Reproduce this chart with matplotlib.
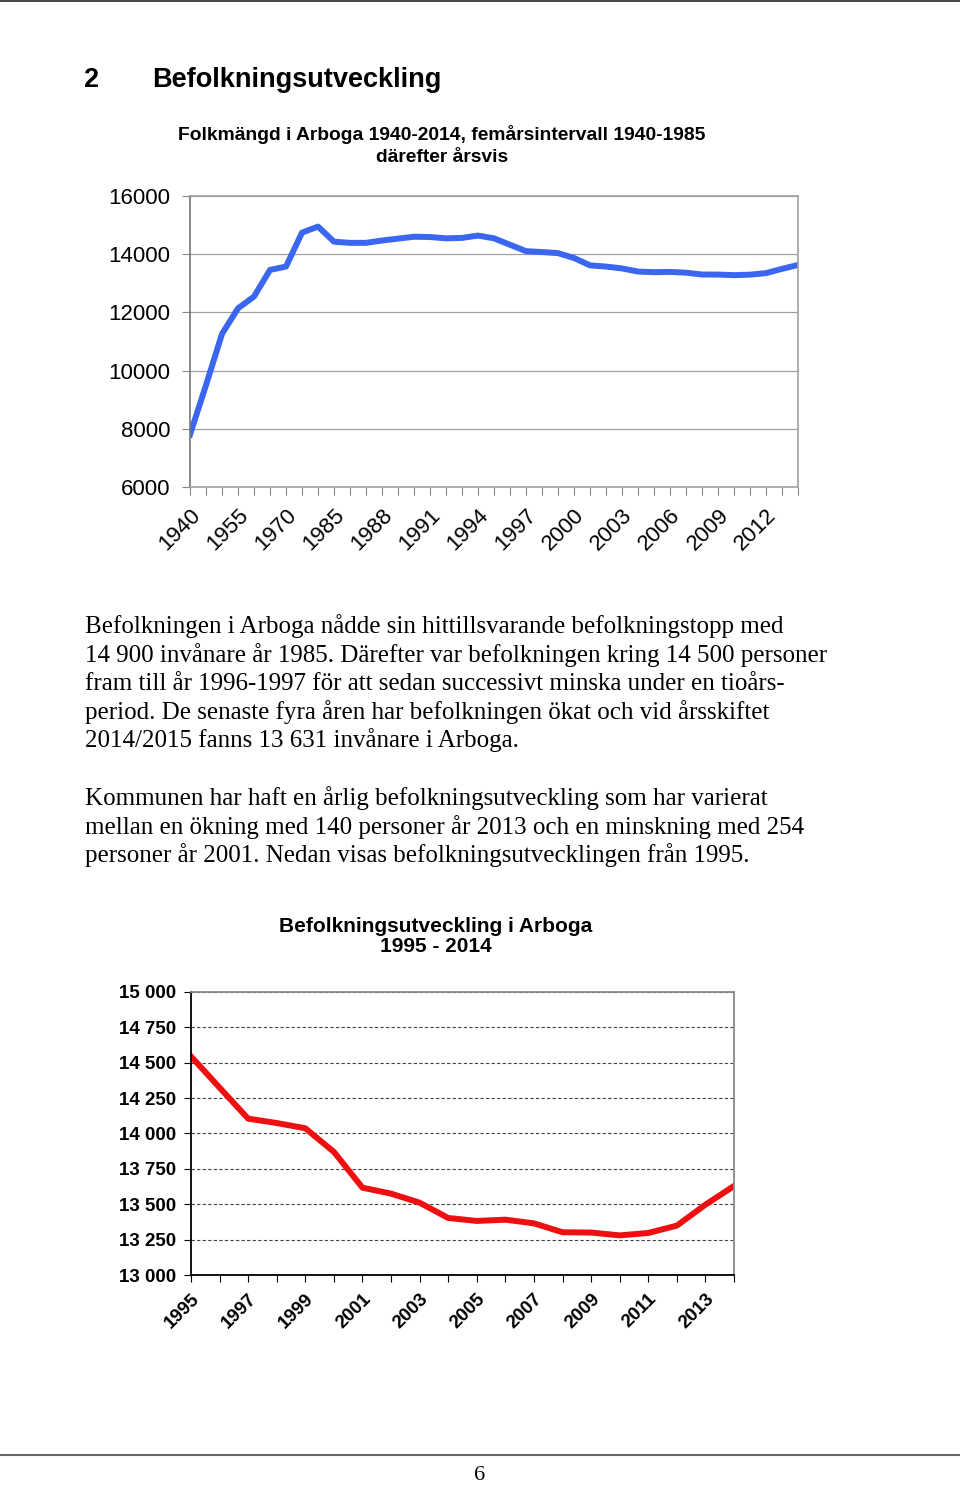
import matplotlib.pyplot as plt

# Diagram 1: folkmängd 1940-2014 (femårsintervall till 1985, sedan årsvis)
years_all = [1940, 1945, 1950, 1955, 1960, 1965, 1970, 1975, 1980, 1985,
             1986, 1987, 1988, 1989, 1990, 1991, 1992, 1993, 1994,
             1995, 1996, 1997, 1998, 1999, 2000, 2001, 2002, 2003, 2004,
             2005, 2006, 2007, 2008, 2009, 2010, 2011, 2012, 2013, 2014]
pop_all = [7800, 9500, 11260, 12140, 12545, 13460, 13575, 14740, 14950, 14430,
           14390, 14390, 14470, 14535, 14600, 14590, 14545, 14560, 14640,
           14545, 14324, 14105, 14074, 14037, 13870, 13617, 13575, 13511, 13403,
           13382, 13391, 13365, 13302, 13300, 13280, 13297, 13349, 13497, 13629]

# Diagram 2: befolkningsutveckling 1995-2014
years_recent = list(range(1995, 2015))
pop_recent = [14545, 14324, 14105, 14074, 14037, 13870, 13617, 13575, 13511, 13403,
              13382, 13391, 13365, 13302, 13300, 13280, 13297, 13349, 13497, 13629]

W, H = 960, 1486
fig = plt.figure(figsize=(W / 100, H / 100), dpi=100)


def box(l, t, r, b):
    return [l / W, 1 - b / H, (r - l) / W, (b - t) / H]


def txt(x, y, s, **kw):
    fig.text(x / W, 1 - y / H, s, **kw)


sans = 'Liberation Sans'
serif = 'Liberation Serif'

# page rules
fig.add_artist(plt.Line2D([0, 1], [1 - 1 / H, 1 - 1 / H], color='#222222', lw=1.2))
fig.add_artist(plt.Line2D([0, 1], [1 - 1455 / H, 1 - 1455 / H], color='#666666', lw=1.5))

# heading
txt(84, 80, '2', family=sans, weight='bold', fontsize=19.5, va='center')
txt(152, 80, 'Befolkningsutveckling', family=sans, weight='bold', fontsize=19.5, va='center')

# chart 1
txt(442, 134, 'Folkmängd i Arboga 1940-2014, femårsintervall 1940-1985',
    family=sans, weight='bold', fontsize=13.9, ha='center', va='center')
txt(442, 157, 'därefter årsvis', family=sans, weight='bold', fontsize=13.9,
    ha='center', va='center')

ax1 = fig.add_axes(box(190, 196, 798, 487))
x1 = list(range(len(years_all)))
ax1.plot(x1, pop_all, color='#3a66f0', lw=4.3, solid_joinstyle='round')
ax1.set_xlim(0, len(years_all) - 1)
ax1.set_ylim(6000, 16000)
ax1.set_yticks(range(6000, 16001, 2000))
ax1.set_yticklabels([str(v) for v in range(6000, 16001, 2000)], family=sans, fontsize=16)
ax1.set_xticks(x1)
ax1.set_xticklabels([str(y) if i % 3 == 0 else '' for i, y in enumerate(years_all)],
                    family=sans, fontsize=16, rotation=45, ha='right',
                    rotation_mode='anchor')
ax1.tick_params(axis='both', direction='out', length=6, color='#888888', pad=8)
ax1.tick_params(axis='x', pad=7)
ax1.grid(axis='y', color='#a0a0a0', lw=0.9)
for s in ax1.spines.values():
    s.set_color('#a0a0a0')
    s.set_linewidth(1.2)
ax1.spines['left'].set_color('#777777')

# body text
para1 = ['Befolkningen i Arboga nådde sin hittillsvarande befolkningstopp med',
         '14 900 invånare år 1985. Därefter var befolkningen kring 14 500 personer',
         'fram till år 1996-1997 för att sedan successivt minska under en tioårs-',
         'period. De senaste fyra åren har befolkningen ökat och vid årsskiftet',
         '2014/2015 fanns 13 631 invånare i Arboga.']
para2 = ['Kommunen har haft en årlig befolkningsutveckling som har varierat',
         'mellan en ökning med 140 personer år 2013 och en minskning med 254',
         'personer år 2001. Nedan visas befolkningsutvecklingen från 1995.']
for i, line in enumerate(para1):
    txt(85, 633 + i * 28.6, line, family=serif, fontsize=18, va='baseline')
for i, line in enumerate(para2):
    txt(85, 805 + i * 28.6, line, family=serif, fontsize=18, va='baseline')

# chart 2
txt(436, 927, 'Befolkningsutveckling i Arboga', family=sans, weight='bold',
    fontsize=15, ha='center', va='center')
txt(436, 947, '1995 - 2014', family=sans, weight='bold', fontsize=15,
    ha='center', va='center')

ax2 = fig.add_axes(box(191, 992, 734, 1275))
x2 = list(range(len(years_recent)))
ax2.plot(x2, pop_recent, color='#ee1010', lw=4.3, solid_joinstyle='round')
ax2.set_xlim(0, len(years_recent) - 1)
ax2.set_ylim(13000, 15000)
yt2 = list(range(13000, 15001, 250))
ax2.set_yticks(yt2)
ax2.set_yticklabels([f'{v:,}'.replace(',', ' ') for v in yt2], family=sans,
                    weight='bold', fontsize=13.5)
ax2.set_xticks(x2)
ax2.set_xticklabels([str(y) if i % 2 == 0 else '' for i, y in enumerate(years_recent)],
                    family=sans, weight='bold', fontsize=13.5, rotation=45,
                    ha='right', rotation_mode='anchor')
ax2.tick_params(axis='both', direction='out', length=5, color='black', pad=6)
ax2.grid(axis='y', color='#444444', lw=0.8, ls=(0, (3, 2)))
ax2.spines['top'].set_color('#888888')
ax2.spines['right'].set_color('#888888')
for s in ax2.spines.values():
    s.set_linewidth(1.3)

# page number
txt(480, 1476, '6', family=serif, fontsize=16, ha='center', va='center')

fig.savefig('out.png', dpi=100)
